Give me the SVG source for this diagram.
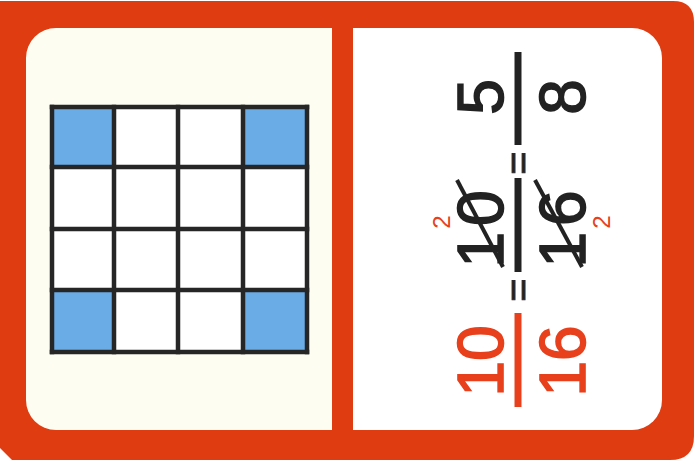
<svg xmlns="http://www.w3.org/2000/svg" width="699" height="464" viewBox="0 0 699 464">
<style>
.num{font-family:"Liberation Sans",Arial,sans-serif;font-size:64px;text-anchor:middle;stroke-width:1.6}
.blk{fill:#222;stroke:#222}
.red{fill:#e8401c;stroke:#e8401c}
.eq{font-family:"Liberation Sans",Arial,sans-serif;font-size:40px;text-anchor:middle;fill:#222;stroke:#222;stroke-width:0.8}
.sm{font-family:"Liberation Sans",Arial,sans-serif;font-size:24px;text-anchor:middle;fill:#e8401c}
.bar{stroke-width:7;stroke-linecap:butt}
.grid line{stroke:#262626;stroke-width:4.5;stroke-linecap:square}
</style>
<g id="card">
<path d="M0,1 H673 Q694,1 694,22 V436 Q694,460 670,460 H12 L0,448 Z" fill="#e03c12"/>
</g>
<g id="left-panel">
<path d="M26,28 H332 V430 H56 A30,30 0 0 1 26,400 V58 A30,30 0 0 1 56,28 Z" fill="#fdfdf2"/>
<g id="grid" class="grid">
<rect x="52" y="107" width="255" height="245" fill="#ffffff"/>
<rect x="52" y="107" width="62" height="60" fill="#6aade6"/>
<rect x="243" y="107" width="64" height="60" fill="#6aade6"/>
<rect x="52" y="290" width="62" height="62" fill="#6aade6"/>
<rect x="243" y="290" width="64" height="62" fill="#6aade6"/>
<line x1="52" y1="107" x2="52" y2="352"/>
<line x1="114" y1="107" x2="114" y2="352"/>
<line x1="178" y1="107" x2="178" y2="352"/>
<line x1="243" y1="107" x2="243" y2="352"/>
<line x1="307" y1="107" x2="307" y2="352"/>
<line x1="52" y1="107" x2="307" y2="107"/>
<line x1="52" y1="167" x2="307" y2="167"/>
<line x1="52" y1="229" x2="307" y2="229"/>
<line x1="52" y1="290" x2="307" y2="290"/>
<line x1="52" y1="352" x2="307" y2="352"/>
</g>
</g>
<g id="right-panel">
<path d="M353,28 H632 A30,30 0 0 1 662,58 V400 A30,30 0 0 1 632,430 H353 Z" fill="#ffffff"/>
</g>
<g id="fraction-5-8">
<line class="bar" x1="518" y1="52" x2="518" y2="145" stroke="#222"/>
<text class="num blk" transform="translate(503,97) rotate(-90)">5</text>
<text class="num blk" transform="translate(585,97) rotate(-90)">8</text>
</g>
<g id="equals-1">
<text class="eq" transform="translate(532,163) rotate(-90)">=</text>
</g>
<g id="fraction-cancelled">
<line class="bar" x1="518" y1="178" x2="518" y2="272" stroke="#222"/>
<text class="num blk" transform="translate(503,226) rotate(-90)" letter-spacing="6">10</text>
<text class="num blk" transform="translate(585,226) rotate(-90)" letter-spacing="6">16</text>
<line x1="457" y1="180" x2="503" y2="267" stroke="#222" stroke-width="4"/>
<line x1="535" y1="180" x2="582" y2="267" stroke="#222" stroke-width="4"/>
<text class="sm" transform="translate(450,222) rotate(-90)">2</text>
<text class="sm" transform="translate(610,222) rotate(-90)">2</text>
</g>
<g id="equals-2">
<text class="eq" transform="translate(532,290) rotate(-90)">=</text>
</g>
<g id="fraction-10-16">
<line class="bar" x1="518" y1="313" x2="518" y2="407" stroke="#e8401c"/>
<text class="num red" transform="translate(503,361) rotate(-90)">10</text>
<text class="num red" transform="translate(585,361) rotate(-90)">16</text>
</g>
</svg>
